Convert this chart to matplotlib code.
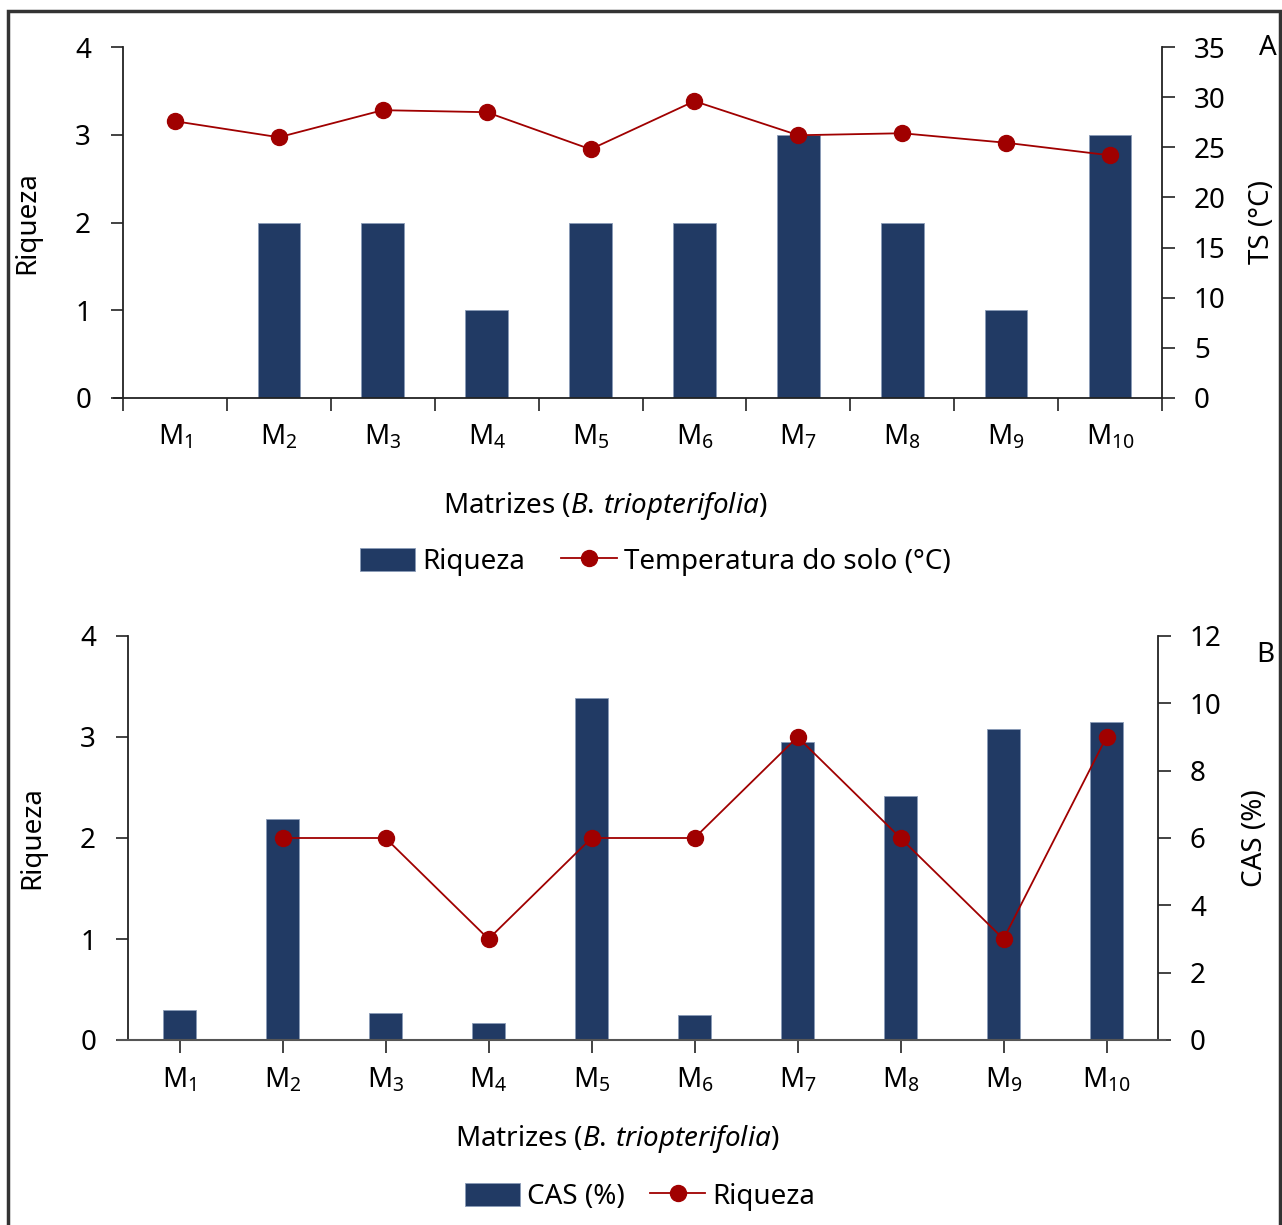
import matplotlib
matplotlib.use('Agg')
import matplotlib.pyplot as plt
from matplotlib.patches import Rectangle, Patch
from matplotlib.lines import Line2D
import numpy as np

plt.rcParams['font.family'] = ['Noto Sans', 'DejaVu Sans']
plt.rcParams['mathtext.fontset'] = 'custom'
plt.rcParams['mathtext.rm'] = 'Noto Sans'
plt.rcParams['mathtext.it'] = 'Noto Sans:italic'

# data
matrizes = ['M$_{%d}$' % i for i in range(1, 11)]
riqueza = [0, 2, 2, 1, 2, 2, 3, 2, 1, 3]
temp_solo = [27.6, 26.0, 28.7, 28.5, 24.8, 29.6, 26.2, 26.4, 25.45, 24.2]
cas = [0.88, 6.55, 0.80, 0.50, 10.15, 0.74, 8.85, 7.26, 9.23, 9.44]

barColor = '#213A64'
barEdge = '#8a9bb8'
lineColor = '#A00000'
axColor = '#222222'
fs = 20

W, H = 1282, 1225
fig = plt.figure(figsize=(W / 100, H / 100), dpi=100)

# outer frame
fig.patches.append(Rectangle((8 / W, -0.01), (1280 - 8) / W, 1 - 11 / H + 0.01,
                             transform=fig.transFigure, fill=False,
                             edgecolor='#333333', lw=2.5))

x = np.arange(len(matrizes))
xlabelTxt = 'Matrizes ($\\mathit{B.\\,triopterifolia}$)'


def style_axes(ax):
    ax.spines['top'].set_visible(False)
    for s in ['left', 'right', 'bottom']:
        ax.spines[s].set_color(axColor)
        ax.spines[s].set_linewidth(1.3)


#############
# Panel A
axA = fig.add_axes([123 / W, 1 - 398 / H, (1162 - 123) / W, (398 - 47) / H])
axA.bar(x, riqueza, width=0.41, color=barColor, edgecolor=barEdge, lw=0.6, zorder=2)
axA.set_xlim(-0.5, 9.5)
axA.set_ylim(0, 4)
axA.set_yticks([0, 1, 2, 3, 4])
axA.set_ylabel('Riqueza', fontsize=fs, labelpad=24)
axA.set_xticks(x)
axA.set_xticklabels(matrizes, fontsize=fs)
axA.set_xticks(np.arange(-0.5, 10, 1), minor=True)
axA.tick_params(axis='x', which='major', length=0, pad=18)
axA.tick_params(axis='x', which='minor', length=9, width=1.2, color=axColor, direction='out')
axA.tick_params(axis='y', length=9, width=1.2, color=axColor, labelsize=fs, pad=14)
axA.set_xlabel(xlabelTxt, fontsize=fs, labelpad=28)
axA.xaxis.label.set_x(0.464)
style_axes(axA)
axA.spines['right'].set_visible(False)
axA.spines['bottom'].set_visible(False)
axA.axhline(0, xmin=-0.009, xmax=1.0, color=axColor, lw=1.3, clip_on=False, zorder=3)

axA2 = axA.twinx()
axA2.plot(x, temp_solo, color=lineColor, lw=1.3, marker='o', markersize=11.5, zorder=3)
axA2.set_ylim(0, 35)
axA2.set_yticks(range(0, 36, 5))
axA2.tick_params(axis='y', length=9, width=1.2, color=axColor, labelsize=fs, pad=14)
axA2.set_ylabel('TS (°C)', fontsize=fs, labelpad=16)
style_axes(axA2)
axA2.spines['left'].set_visible(False)
axA2.spines['bottom'].set_visible(False)

fig.text(1268 / W, 1 - 48 / H, 'A', fontsize=fs, ha='center', va='center')

legA = [Patch(facecolor=barColor, edgecolor=barEdge, lw=0.6, label='Riqueza'),
        Line2D([0], [0], color=lineColor, lw=1.3, marker='o', markersize=11.5,
               label='Temperatura do solo (°C)')]
fig.legend(handles=legA, loc='center', bbox_to_anchor=(655 / W, 1 - 562 / H), ncol=2,
           frameon=False, fontsize=fs, handlelength=2.0, handletextpad=0.25,
           columnspacing=1.3, handleheight=0.9)

#############
# Panel B
axB = fig.add_axes([128 / W, 1 - 1040 / H, (1158 - 128) / W, (1040 - 636) / H])
axB2 = axB.twinx()
axB2.bar(x, cas, width=0.33, color=barColor, edgecolor=barEdge, lw=0.6, zorder=2)
axB2.set_ylim(0, 12)
axB2.set_yticks(range(0, 13, 2))
axB2.tick_params(axis='y', length=9, width=1.2, color=axColor, labelsize=fs, pad=14)
axB2.set_ylabel('CAS (%)', fontsize=fs, labelpad=14)
style_axes(axB2)
axB2.spines['left'].set_visible(False)
axB2.spines['bottom'].set_visible(False)

# line axis on top of the bar axis
axB.set_zorder(axB2.get_zorder() + 1)
axB.patch.set_visible(False)
axB.plot(x[1:], riqueza[1:], color=lineColor, lw=1.3, marker='o', markersize=11.5, zorder=3)
axB.set_xlim(-0.5, 9.5)
axB.set_ylim(0, 4)
axB.set_yticks([0, 1, 2, 3, 4])
axB.set_ylabel('Riqueza', fontsize=fs, labelpad=24)
axB.set_xticks(x)
axB.set_xticklabels(matrizes, fontsize=fs)
axB.tick_params(axis='x', length=9, width=1.2, color=axColor, pad=10)
axB.tick_params(axis='y', length=9, width=1.2, color=axColor, labelsize=fs, pad=14)
axB.set_xlabel(xlabelTxt, fontsize=fs, labelpad=20)
axB.xaxis.label.set_x(0.475)
style_axes(axB)
axB.spines['right'].set_visible(False)
axB.spines['bottom'].set_visible(False)
axB.axhline(0, xmin=-0.01, xmax=1.007, color='#555555', lw=1.5, clip_on=False, zorder=4)

fig.text(1265 / W, 1 - 655 / H, 'B', fontsize=fs, ha='center', va='center')

legB = [Patch(facecolor=barColor, edgecolor=barEdge, lw=0.6, label='CAS (%)'),
        Line2D([0], [0], color=lineColor, lw=1.3, marker='o', markersize=11.5,
               label='Riqueza')]
fig.legend(handles=legB, loc='center', bbox_to_anchor=(640 / W, 1 - 1197 / H), ncol=2,
           frameon=False, fontsize=fs, handlelength=2.0, handletextpad=0.25,
           columnspacing=0.9, handleheight=0.9)

fig.savefig('out.png', dpi=100)
